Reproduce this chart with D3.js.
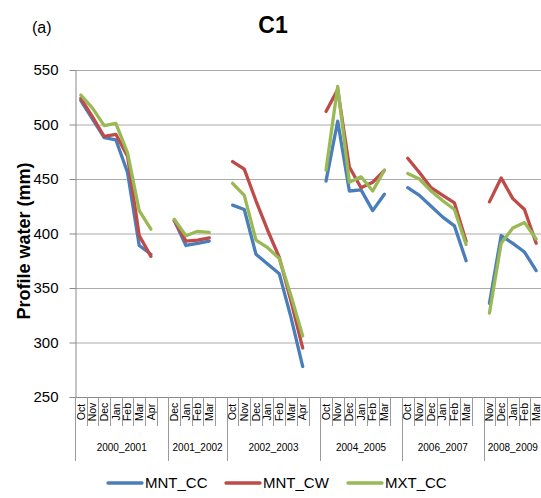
<!DOCTYPE html>
<html lang="en">
<head>
  <meta charset="utf-8">
  <title>C1</title>
  <script src="https://cdn.jsdelivr.net/npm/d3@7"></script>
  <style type="text/css">
    body{ margin:0; background:#fff; }
    text{ font-family: "Liberation Sans", Arial, sans-serif; fill:#000; }
  </style>
</head>
<body>
<script type="text/javascript">

var width = 541;
var height = 498;

// x categories: seasons and their months (a blank slot follows each season but the last)
var seasons = ["2000_2001", "2001_2002", "2002_2003", "2004_2005", "2006_2007", "2008_2009"];
var seasonMonths = [
    ["Oct", "Nov", "Dec", "Jan", "Feb", "Mar", "Apr"],
    ["Dec", "Jan", "Feb", "Mar"],
    ["Oct", "Nov", "Dec", "Jan", "Feb", "Mar", "Apr"],
    ["Oct", "Nov", "Dec", "Jan", "Feb", "Mar"],
    ["Oct", "Nov", "Dec", "Jan", "Feb", "Mar"],
    ["Nov", "Dec", "Jan", "Feb", "Mar"]
];

// profile water (mm), one list per season
var mntCC = [
    [522, 505, 488, 486, 456, 389, 381],
    [412, 389, 391, 393],
    [426, 422, 381, 372, 363, 323, 278],
    [448, 503, 439, 440, 421, 436],
    [442, 435, 425, 415, 407, 375],
    [336, 398, 391, 383, 366]
];
var mntCW = [
    [524, 507, 489, 491, 471, 398, 379],
    [412, 393, 394, 396],
    [466, 459, 430, 403, 378, 338, 295],
    [512, 532, 461, 442, 447, 458],
    [469, 456, 442, 435, 428, 393],
    [429, 451, 432, 422, 391]
];
var mxtCC = [
    [527, 515, 499, 501, 474, 421, 404],
    [413, 398, 402, 401],
    [446, 435, 394, 387, 377, 343, 306],
    [458, 535, 447, 452, 439, 458],
    [455, 450, 439, 430, 422, 390],
    [327, 391, 405, 410, 395]
];

var seriesNames = ["MNT_CC", "MNT_CW", "MXT_CC"];
var seriesValues = [mntCC, mntCW, mxtCC];
var colors = ["#4a7ebb", "#be4b48", "#98b954"];

var yTicks = [250, 300, 350, 400, 450, 500, 550];

var plotLeft = 75, plotRight = 542, plotTop = 70, plotBottom = 397;

var svg = d3.select("body")
        .append("svg")
        .attr("width", width)
        .attr("height", height);

// build flat list of slots
var slots = [];
seasons.forEach(function(s, gi){
    seasonMonths[gi].forEach(function(m, mi){
        slots.push({key: gi + "_" + mi, group: gi, month: m});
    });
    if(gi < seasons.length - 1){
        slots.push({key: gi + "_blank", group: gi, month: ""});
    }
});

var xScale = d3.scaleBand()
    .domain(slots.map(function(d){ return d.key; }))
    .range([plotLeft, plotRight]);

var yScale = d3.scaleLinear()
    .domain([250, 550])
    .range([plotBottom, plotTop]);

function cx(key){ return xScale(key) + xScale.bandwidth() / 2; }

// gridlines
svg.append("g")
    .attr("transform", "translate(" + plotLeft + ",0)")
    .call(d3.axisLeft(yScale).tickValues(yTicks).tickSize(-(plotRight - plotLeft)).tickFormat(""))
    .call(function(g){
        g.select(".domain").remove();
        g.selectAll("line").attr("stroke", "#ababab").attr("stroke-width", 1.2);
    });

// y axis
svg.append("g")
    .attr("transform", "translate(" + (plotLeft + 0.5) + ",0)")
    .call(d3.axisLeft(yScale).tickValues(yTicks).tickSize(6).tickSizeOuter(0).tickPadding(11))
    .call(function(g){
        g.select(".domain").attr("stroke", "#8a8a8a");
        g.selectAll(".tick line").attr("stroke", "#8a8a8a");
        g.selectAll("text")
            .style("font-family", '"Liberation Sans", Arial, sans-serif')
            .attr("font-size", 15)
            .attr("fill", "#000");
    });

// x axis line
svg.append("line")
    .attr("x1", plotLeft).attr("x2", plotRight)
    .attr("y1", plotBottom + 0.5).attr("y2", plotBottom + 0.5)
    .attr("stroke", "#8a8a8a");

// category ticks and season separators
var bounds = slots.map(function(d, i){
    var first = (i === 0) || slots[i - 1].group !== d.group;
    return {x: xScale(d.key), long: first};
});
bounds.push({x: plotRight, long: true});

svg.selectAll(".ctick")
    .data(bounds)
    .enter()
    .append("line")
    .attr("class", "ctick")
    .attr("x1", function(d){ return Math.round(d.x) + 0.5; })
    .attr("x2", function(d){ return Math.round(d.x) + 0.5; })
    .attr("y1", plotBottom)
    .attr("y2", function(d){ return d.long ? 461 : 426; })
    .attr("stroke", "#9a9a9a");

// month labels
svg.selectAll(".month")
    .data(slots.filter(function(d){ return d.month !== ""; }))
    .enter()
    .append("text")
    .attr("class", "month")
    .attr("transform", function(d){ return "translate(" + cx(d.key) + ",412) rotate(-90)"; })
    .attr("dy", "0.35em")
    .attr("text-anchor", "middle")
    .attr("font-size", 10.5)
    .text(function(d){ return d.month; });

// season labels
svg.selectAll(".season")
    .data(seasons)
    .enter()
    .append("text")
    .attr("class", "season")
    .attr("x", function(d, gi){
        var ks = slots.filter(function(s){ return s.group === gi; });
        var x0 = xScale(ks[0].key);
        var x1 = xScale(ks[ks.length - 1].key) + xScale.bandwidth();
        return (x0 + x1) / 2;
    })
    .attr("y", 451)
    .attr("text-anchor", "middle")
    .attr("font-size", 10)
    .text(function(d){ return d; });

// series lines, one path per season
var line = d3.line()
    .x(function(d){ return cx(d.key); })
    .y(function(d){ return yScale(d.v); });

seriesValues.forEach(function(series, si){
    series.forEach(function(vals, gi){
        var pts = vals.map(function(v, mi){ return {key: gi + "_" + mi, v: v}; });
        svg.append("path")
            .datum(pts)
            .attr("d", line)
            .attr("fill", "none")
            .attr("stroke", colors[si])
            .attr("stroke-width", 3.3)
            .attr("stroke-linejoin", "round")
            .attr("stroke-linecap", "round");
    });
});

// titles
svg.append("text")
    .attr("x", 273).attr("y", 33)
    .attr("text-anchor", "middle")
    .attr("font-size", 23)
    .attr("font-weight", "bold")
    .text("C1");

svg.append("text")
    .attr("x", 32).attr("y", 33)
    .attr("font-size", 16)
    .text("(a)");

svg.append("text")
    .attr("transform", "translate(30,241) rotate(-90)")
    .attr("text-anchor", "middle")
    .attr("font-size", 18)
    .attr("font-weight", "bold")
    .text("Profile water (mm)");

// legend
var legendX = [108, 226, 348];
var legend = svg.selectAll(".legend")
    .data(seriesNames)
    .enter()
    .append("g")
    .attr("class", "legend")
    .attr("transform", function(d, i){ return "translate(" + legendX[i] + ",483)"; });

legend.append("line")
    .attr("x1", 0).attr("x2", 34)
    .attr("stroke", function(d, i){ return colors[i]; })
    .attr("stroke-width", 3.3)
    .attr("stroke-linecap", "round");

legend.append("text")
    .attr("x", 37)
    .attr("dy", "0.35em")
    .attr("font-size", 15)
    .text(function(d){ return d; });

</script>
</body>
</html>
